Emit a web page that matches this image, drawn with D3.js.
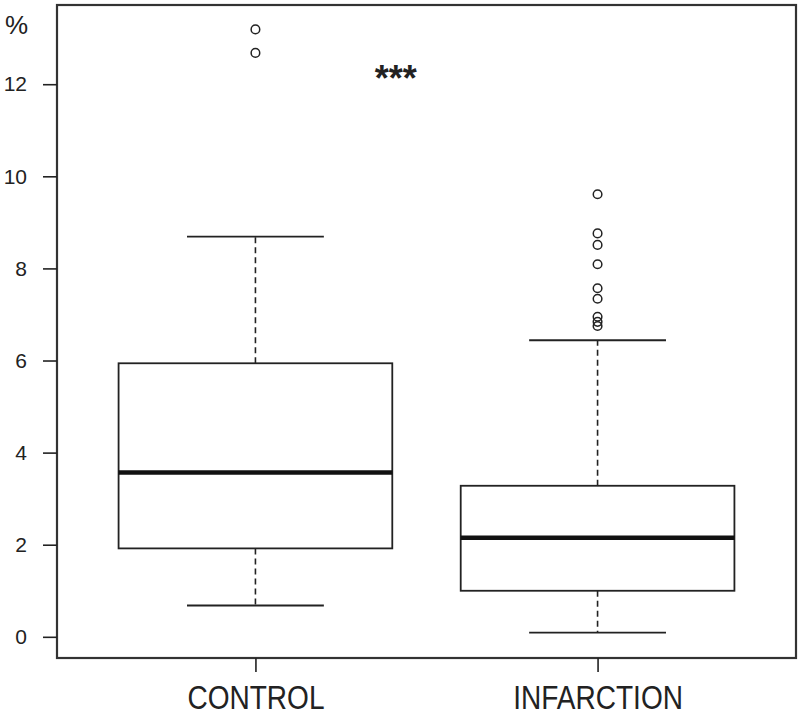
<!DOCTYPE html>
<html>
<head>
<meta charset="utf-8">
<script src="https://cdn.jsdelivr.net/npm/d3@7/dist/d3.min.js"></script>
<style>
  html, body { margin: 0; padding: 0; background: #fff; }
  svg { display: block; }
  text { font-family: "Liberation Sans", Arial, sans-serif; fill: #222; }
</style>
</head>
<body>
<svg id="chart" width="800" height="715"></svg>
<script>
const categories = ["CONTROL", "INFARCTION"];
const lowerWhisker = [0.68, 0.09];
const q1 = [1.92, 1.00];
const median = [3.57, 2.15];
const q3 = [5.94, 3.28];
const upperWhisker = [8.69, 6.44];
const outliersControl = [13.19, 12.68];
const outliersInfarction = [9.61, 8.76, 8.51, 8.09, 7.57, 7.34, 6.95, 6.84, 6.75];
const yTicks = [0, 2, 4, 6, 8, 10, 12];
const yUnit = "%";
const significance = "***";
const significancePos = [1.41, 11.85];

const outliers = [outliersControl, outliersInfarction];
const boxes = categories.map((c, i) => ({
  name: c, pos: i + 1,
  lo: lowerWhisker[i], q1: q1[i], med: median[i], q3: q3[i], hi: upperWhisker[i],
  out: outliers[i]
}));

const svg = d3.select("#chart");
const L = 57, R = 796, T = 5, B = 658;
const x = d3.scaleLinear().domain([0.42, 2.58]).range([L, R]);
const y = d3.scaleLinear().domain([-0.46, 13.72]).range([B, T]);
const boxW = 0.8, capW = 0.4;
const ink = "#222";

// frame
svg.append("rect").attr("x", L).attr("y", T).attr("width", R - L).attr("height", B - T)
  .attr("fill", "none").attr("stroke", "#333").attr("stroke-width", 2.2);

// y axis
const gy = svg.append("g").attr("transform", `translate(${L},0)`)
  .call(d3.axisLeft(y).tickValues(yTicks).tickSize(14).tickPadding(16).tickFormat(d3.format("d")));
gy.select(".domain").remove();
gy.selectAll(".tick line").attr("stroke", ink).attr("stroke-width", 1.6);
gy.selectAll(".tick text").style("font-size", "21px").attr("fill", ink);

// x axis
const gx = svg.append("g").attr("transform", `translate(0,${B})`)
  .call(d3.axisBottom(x).tickValues([1, 2]).tickSize(14).tickPadding(14)
    .tickFormat((d, i) => categories[i]));
gx.select(".domain").remove();
gx.selectAll(".tick line").attr("stroke", ink).attr("stroke-width", 1.6);
gx.selectAll(".tick text").style("font-size", "33px").attr("fill", ink)
  .attr("transform", "scale(0.85,1)");

// boxes
const g = svg.append("g");
boxes.forEach(b => {
  const cx = x(b.pos);
  const x0 = x(b.pos - boxW / 2), x1 = x(b.pos + boxW / 2);
  const c0 = x(b.pos - capW / 2), c1 = x(b.pos + capW / 2);
  // whiskers (dashed)
  g.append("line").attr("x1", cx).attr("x2", cx).attr("y1", y(b.q3)).attr("y2", y(b.hi))
    .attr("stroke", ink).attr("stroke-width", 1.6).attr("stroke-dasharray", "6,4");
  g.append("line").attr("x1", cx).attr("x2", cx).attr("y1", y(b.q1)).attr("y2", y(b.lo))
    .attr("stroke", ink).attr("stroke-width", 1.6).attr("stroke-dasharray", "6,4");
  // caps
  g.append("line").attr("x1", c0).attr("x2", c1).attr("y1", y(b.hi)).attr("y2", y(b.hi))
    .attr("stroke", ink).attr("stroke-width", 1.8);
  g.append("line").attr("x1", c0).attr("x2", c1).attr("y1", y(b.lo)).attr("y2", y(b.lo))
    .attr("stroke", ink).attr("stroke-width", 1.8);
  // box
  g.append("rect").attr("x", x0).attr("y", y(b.q3)).attr("width", x1 - x0)
    .attr("height", y(b.q1) - y(b.q3)).attr("fill", "#fff")
    .attr("stroke", ink).attr("stroke-width", 1.8);
  // median
  g.append("line").attr("x1", x0).attr("x2", x1).attr("y1", y(b.med)).attr("y2", y(b.med))
    .attr("stroke", "#111").attr("stroke-width", 4.5);
  // outliers
  g.selectAll(null).data(b.out).enter().append("circle")
    .attr("cx", cx).attr("cy", d => y(d)).attr("r", 4.3)
    .attr("fill", "none").attr("stroke", ink).attr("stroke-width", 1.5);
});

// unit label
svg.append("text").attr("x", 5).attr("y", 34).text(yUnit)
  .style("font-size", "26px").attr("fill", ink);

// significance
svg.append("text").attr("x", x(significancePos[0])).attr("y", y(significancePos[1]))
  .attr("text-anchor", "middle").style("font-size", "36px").style("font-weight", "bold")
  .attr("fill", "#111").text(significance);
</script>
</body>
</html>
